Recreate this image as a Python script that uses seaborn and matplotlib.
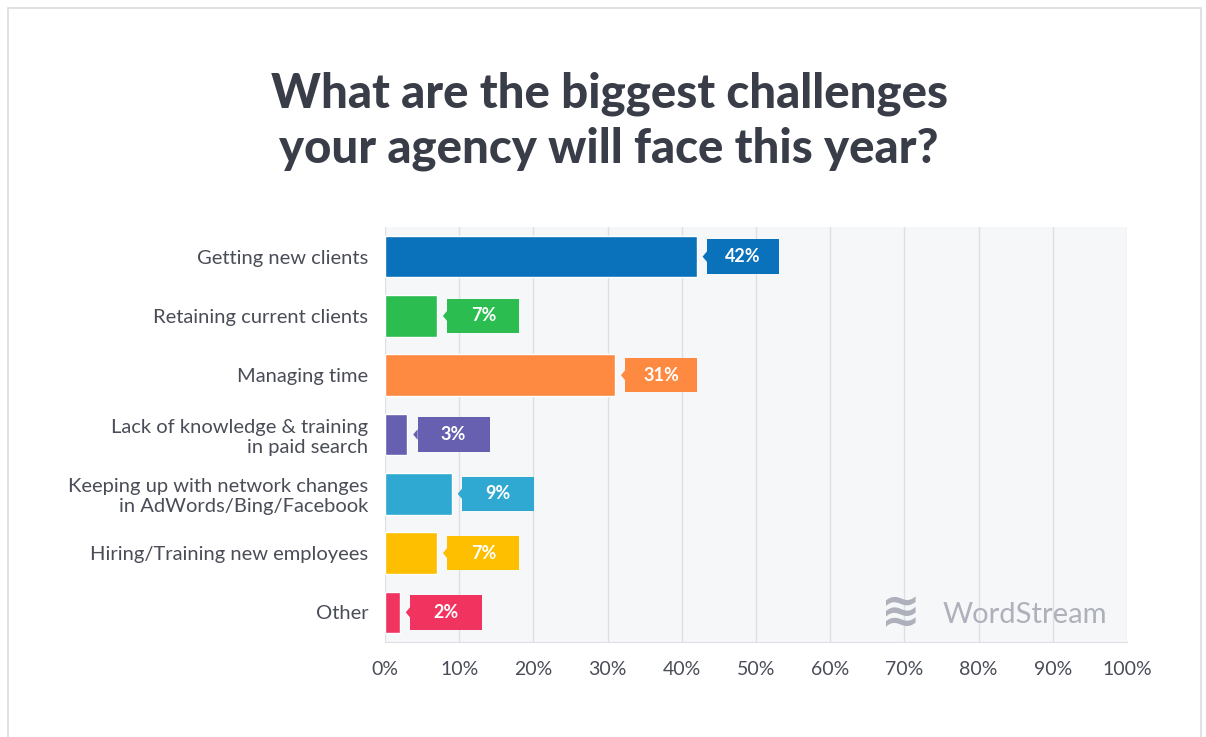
import matplotlib
matplotlib.use('Agg')
import matplotlib.pyplot as plt
import seaborn as sns
import pandas as pd
from matplotlib.patches import Rectangle, Polygon

# data
challenges = ['Getting new clients', 'Retaining current clients', 'Managing time',
              'Lack of knowledge & training\nin paid search',
              'Keeping up with network changes\nin AdWords/Bing/Facebook',
              'Hiring/Training new employees', 'Other']
shares = [42, 7, 31, 3, 9, 7, 2]
bar_colors = ['#0a72ba', '#2cbd50', '#fe8a42', '#6760b0', '#2fa9d2', '#fdbf00', '#f1345f']
xticks = list(range(0, 101, 10))
xtick_labels = [f'{t}%' for t in xticks]

sns.set_style('white')
plt.rcParams['font.family'] = ['Lato', 'DejaVu Sans']

df = pd.DataFrame({'challenge': challenges, 'share': shares})

fig = plt.figure(figsize=(12.06, 7.37), dpi=100)
fig.patch.set_facecolor('white')
# light frame round the card
fig.patches.append(Rectangle((8 / 1206, -0.05), 1193 / 1206, 1.05 - 8 / 737,
                             transform=fig.transFigure, fill=False,
                             edgecolor='#dcdcdc', linewidth=1.2))

ax = fig.add_axes([385 / 1206, 1 - 642 / 737, 742 / 1206, 415 / 737])
ax.set_facecolor('#f6f7f8')

sns.barplot(data=df, x='share', y='challenge', hue='challenge', palette=bar_colors,
            orient='h', width=0.7, legend=False, saturation=1, ax=ax)

# value boxes with a small notch pointing at the bar
box_w = 9.7
box_h = 0.58
for i, (v, c) in enumerate(zip(shares, bar_colors)):
    x0 = v + 1.4
    ax.add_patch(Rectangle((x0, i - box_h / 2), box_w, box_h, facecolor=c,
                           edgecolor='none', zorder=3))
    ax.add_patch(Polygon([[x0, i - 0.09], [x0 - 0.6, i], [x0, i + 0.09]],
                         closed=True, facecolor=c, edgecolor='none', zorder=3))
    ax.text(x0 + box_w / 2, i, f'{v}%', ha='center', va='center', color='white',
            fontsize=13, fontweight='bold', zorder=4)

ax.set_xlim(0, 100)
ax.set_ylim(6.5, -0.5)
ax.set_xticks(xticks)
ax.set_xticklabels(xtick_labels)
ax.set_xlabel('')
ax.set_ylabel('')
ax.grid(True, axis='x', color='#dedfe2', linewidth=1)
ax.set_axisbelow(True)
for s in ['top', 'right', 'left']:
    ax.spines[s].set_visible(False)
ax.spines['bottom'].set_color('#dedfe2')
ax.tick_params(axis='x', length=0, pad=14, labelsize=14, labelcolor='#4a4d57')
ax.tick_params(axis='y', length=0, pad=12, labelsize=14.5, labelcolor='#4a4d57')
for lab in ax.get_yticklabels():
    lab.set_linespacing(1.2)

# watermark
ax.text(97.3, 6.05, 'WordStream', ha='right', va='center', fontsize=21,
        color='#aeb1bb', zorder=2)
ax.text(69.5, 6.02, '\u224b', ha='center', va='center', fontsize=34,
        color='#aeb1bb', fontweight='bold', family=['DejaVu Sans'], zorder=2)

fig.text(0.505, 1 - 121 / 737, 'What are the biggest challenges\nyour agency will face this year?',
         ha='center', va='center', fontsize=34, fontweight='black', color='#393d48',
         linespacing=1.3)

fig.savefig('out.png', dpi=100)
